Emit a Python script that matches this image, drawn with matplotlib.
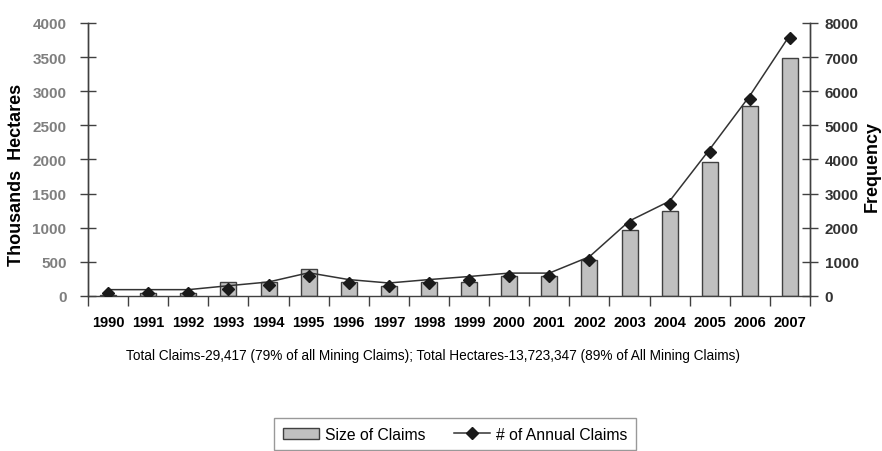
import numpy as np
import matplotlib
matplotlib.use('Agg')
import matplotlib.pyplot as plt
from matplotlib import transforms

plt.rcParams['font.family'] = ['Liberation Sans', 'DejaVu Sans']

years = [str(y) for y in range(1990, 2008)]
hectares = [10, 50, 50, 200, 200, 390, 200, 150, 200, 200, 290, 290,
            530, 960, 1250, 1960, 2780, 3480]
claims = [185, 185, 185, 300, 410, 680, 480, 380, 480, 570, 670, 670,
          1150, 2200, 2780, 4300, 5870, 7650]

fig = plt.figure(figsize=(8.82, 4.52), dpi=100)
ax = fig.add_axes([0.0998, 0.343, 0.8186, 0.604])
ax2 = ax.twinx()

x = np.arange(len(years))
bars = ax.bar(x, hectares, width=0.4, color='#c0c0c0', edgecolor='#404040',
              linewidth=1, label='Size of Claims', zorder=2)

ax2.plot(x, claims, color='#333333', linewidth=1.1, zorder=3)
# markers sit a little below the line in the original
off = transforms.offset_copy(ax2.transData, fig=fig, x=0, y=-3, units='dots')
ax2.plot(x, claims, linestyle='none', marker='D', markersize=6,
         color='#1a1a1a', transform=off, zorder=4)
line_handle, = ax2.plot([], [], color='#333333', linewidth=1.1, marker='D',
                        markersize=6, markerfacecolor='#1a1a1a',
                        markeredgecolor='#1a1a1a', label='# of Annual Claims')

ax.set_xlim(-0.5, len(years) - 0.5)
ax.set_ylim(0, 4000)
ax2.set_ylim(0, 8000)
ax.set_yticks(np.arange(0, 4001, 500))
ax2.set_yticks(np.arange(0, 8001, 1000))

ax.set_xticks(np.arange(-0.5, len(years), 1))
ax.set_xticklabels([])
ax.set_xticks(x, minor=True)
ax.set_xticklabels(years, minor=True, fontsize=10.5, fontweight='bold')
ax.tick_params(axis='x', which='major', direction='out', length=7,
               color='#404040', width=1)
ax.tick_params(axis='x', which='minor', length=0, pad=14)

ax.tick_params(axis='y', direction='inout', length=11, color='#404040',
               width=1, pad=10)
ax2.tick_params(axis='y', direction='inout', length=11, color='#404040',
                width=1, pad=5)
for t in ax.get_yticklabels():
    t.set_fontsize(11)
    t.set_fontweight('bold')
    t.set_color('#7f7f7f')
for t in ax2.get_yticklabels():
    t.set_fontsize(11)
    t.set_fontweight('bold')
    t.set_color('#333333')

for a in (ax, ax2):
    a.spines['top'].set_visible(False)
    for s in ('left', 'right', 'bottom'):
        a.spines[s].set_color('#404040')
        a.spines[s].set_linewidth(1)
ax2.spines['bottom'].set_visible(False)

fig.text(0.019, (452 - 175) / 452, 'Thousands  Hectares', rotation=90,
         ha='center', va='center', fontsize=13, fontweight='bold')
fig.text(0.989, (452 - 166) / 452, 'Frequency', rotation=90,
         ha='center', va='center', fontsize=13, fontweight='bold')

fig.text(433 / 882, (452 - 356) / 452,
         'Total Claims-29,417 (79% of all Mining Claims); '
         'Total Hectares-13,723,347 (89% of All Mining Claims)',
         ha='center', va='center', fontsize=9.8)

leg = fig.legend([bars, line_handle], ['Size of Claims', '# of Annual Claims'],
                 loc='upper left', bbox_to_anchor=(274 / 882, 1 - 419 / 452),
                 ncol=2, frameon=True, fancybox=False, borderaxespad=0,
                 prop={'size': 11.3}, handlelength=2.3, handletextpad=0.4,
                 columnspacing=1.8, borderpad=0.55)
leg.get_frame().set_edgecolor('#808080')
leg.get_frame().set_linewidth(1)

fig.savefig('out.png', dpi=100)
